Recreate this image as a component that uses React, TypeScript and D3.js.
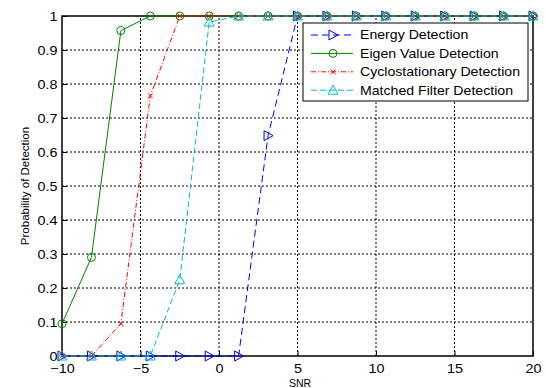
import React, { useEffect, useRef } from 'react'
import * as d3 from 'd3'

// SNR points (linspace -10..20, 17 pts)
const snr = [-10, -8.125, -6.25, -4.375, -2.5, -0.625, 1.25, 3.125, 5, 6.875, 8.75, 10.625, 12.5, 14.375, 16.25, 18.125, 20]

const energy = [0, 0, 0, 0, 0, 0, 0, 0.648, 1, 1, 1, 1, 1, 1, 1, 1, 1]
const eigen = [0.095, 0.29, 0.957, 1, 1, 1, 1, 1, 1, 1, 1, 1, 1, 1, 1, 1, 1]
const cyclo = [0, 0, 0.095, 0.765, 1, 1, 1, 1, 1, 1, 1, 1, 1, 1, 1, 1, 1]
const matched = [0, 0, 0, 0, 0.224, 0.982, 1, 1, 1, 1, 1, 1, 1, 1, 1, 1, 1]

const seriesNames = ['Energy Detection', 'Eigen Value Detection', 'Cyclostationary Detection', 'Matched Filter Detection']

const xTicks = [-10, -5, 0, 5, 10, 15, 20]
const yTicks = [0, 0.1, 0.2, 0.3, 0.4, 0.5, 0.6, 0.7, 0.8, 0.9, 1]

const W = 546
const H = 388

export default function App() {
    const ref = useRef<SVGSVGElement>(null)

    useEffect(() => {
        const svg = d3.select(ref.current)
        svg.selectAll('*').remove()

        const margin = { top: 16, right: 13, bottom: 32, left: 62 }
        const x = d3.scaleLinear().domain([-10, 20]).range([margin.left, W - margin.right])
        const y = d3.scaleLinear().domain([0, 1]).range([H - margin.bottom, margin.top])

        svg.append('rect').attr('width', W).attr('height', H).attr('fill', '#fff')

        const font = 'Arial, Liberation Sans, sans-serif'
        // the source image is a bit stretched sideways, so horizontal text gets widened
        const stretch = 1.15

        // grid
        const grid = svg.append('g').attr('stroke', '#000').attr('stroke-width', 1).attr('stroke-dasharray', '2,2')
        xTicks.slice(1, -1).forEach(t => {
            grid.append('line').attr('x1', x(t)).attr('x2', x(t)).attr('y1', y(0)).attr('y2', y(1))
        })
        yTicks.slice(1, -1).forEach(t => {
            grid.append('line').attr('x1', x(-10)).attr('x2', x(20)).attr('y1', y(t)).attr('y2', y(t))
        })

        // axes
        svg.append('g')
            .attr('transform', `translate(0,${y(0)})`)
            .call(d3.axisBottom(x).tickValues(xTicks).tickSize(-5).tickPadding(8).tickFormat(d3.format('d')))
            .call(g => g.select('.domain').remove())
            .call(g => g.selectAll('text').attr('font-family', font).attr('font-size', 12.5).attr('fill', '#000')
                .attr('transform', `scale(${stretch},1)`))
        svg.append('g')
            .attr('transform', `translate(${x(-10)},0)`)
            .call(d3.axisLeft(y).tickValues(yTicks).tickSize(-5).tickPadding(4).tickFormat(d => String(+d)))
            .call(g => g.select('.domain').remove())
            .call(g => g.selectAll('text').attr('font-family', font).attr('font-size', 12.5).attr('fill', '#000')
                .attr('transform', `scale(${stretch},1)`))

        svg.append('rect')
            .attr('x', x(-10)).attr('y', y(1))
            .attr('width', x(20) - x(-10)).attr('height', y(0) - y(1))
            .attr('fill', 'none').attr('stroke', '#000').attr('stroke-width', 1.5)

        // series
        const series = [
            { name: seriesNames[0], values: energy, color: '#0000ff', dash: '7,4', marker: 'right' },
            { name: seriesNames[1], values: eigen, color: '#008000', dash: null, marker: 'circle' },
            { name: seriesNames[2], values: cyclo, color: '#ff0000', dash: '5,2,1,2', marker: 'x' },
            { name: seriesNames[3], values: matched, color: '#00bfbf', dash: '6,3', marker: 'up' },
        ]

        const drawMarker = (g: any, type: string, cx: number, cy: number, color: string) => {
            if (type === 'circle') {
                g.append('circle').attr('cx', cx).attr('cy', cy).attr('r', 4)
                    .attr('fill', 'none').attr('stroke', color).attr('stroke-width', 1)
            } else if (type === 'right') {
                g.append('path').attr('d', `M${cx - 4},${cy - 5}L${cx + 5},${cy}L${cx - 4},${cy + 5}Z`)
                    .attr('fill', 'none').attr('stroke', color).attr('stroke-width', 1)
            } else if (type === 'up') {
                g.append('path').attr('d', `M${cx},${cy - 5}L${cx + 5},${cy + 4}L${cx - 5},${cy + 4}Z`)
                    .attr('fill', 'none').attr('stroke', color).attr('stroke-width', 1)
            } else {
                g.append('path').attr('d', `M${cx - 2.5},${cy - 2.5}L${cx + 2.5},${cy + 2.5}M${cx - 2.5},${cy + 2.5}L${cx + 2.5},${cy - 2.5}`)
                    .attr('fill', 'none').attr('stroke', color).attr('stroke-width', 1)
            }
        }

        const line = d3.line<number>().x((d, i) => x(snr[i])).y(d => y(d))

        series.forEach(s => {
            const g = svg.append('g')
            g.append('path').attr('d', line(s.values))
                .attr('fill', 'none').attr('stroke', s.color).attr('stroke-width', 1)
                .attr('stroke-dasharray', s.dash)
            s.values.forEach((v, i) => drawMarker(g, s.marker, x(snr[i]), y(v), s.color))
        })

        // legend
        const lg = svg.append('g')
        lg.append('rect').attr('x', 303).attr('y', 23).attr('width', 225).attr('height', 78)
            .attr('fill', '#fff').attr('stroke', '#000').attr('stroke-width', 1)
        series.forEach((s, i) => {
            const ly = 35 + i * 18.4
            lg.append('line').attr('x1', 311).attr('x2', 353).attr('y1', ly).attr('y2', ly)
                .attr('stroke', s.color).attr('stroke-width', 1).attr('stroke-dasharray', s.dash)
            drawMarker(lg, s.marker, 333, ly, s.color)
            lg.append('text').attr('transform', `translate(360,${ly}) scale(1.13,1)`).attr('dy', '0.35em')
                .attr('font-family', font).attr('font-size', 12.5).text(s.name)
        })

        // labels
        svg.append('text').attr('x', 300).attr('y', 387)
            .attr('text-anchor', 'middle').attr('font-family', font).attr('font-size', 10.5).text('SNR')
        svg.append('text').attr('transform', `translate(29,${(y(0) + y(1)) / 2}) rotate(-90)`)
            .attr('text-anchor', 'middle').attr('font-family', font).attr('font-size', 11.5).text('Probability of Detection')
    }, [])

    return (
        <svg ref={ref} width={W} height={H} style={{ position: 'absolute', left: 0, top: 0 }} />
    )
}
